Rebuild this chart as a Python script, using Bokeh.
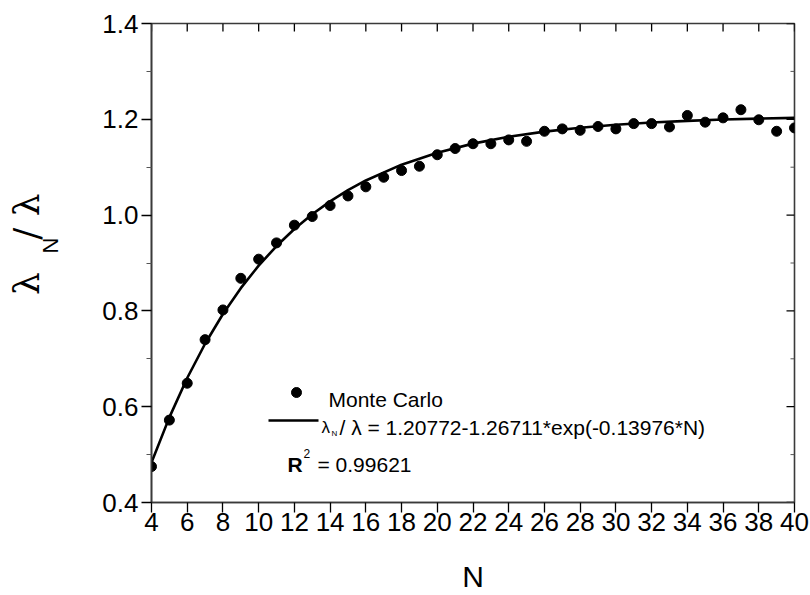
import math
from bokeh.plotting import figure
from bokeh.models import (Range1d, LinearAxis, FixedTicker, Label, NumeralTickFormatter,
                          CustomJSTickFormatter)
from bokeh.embed import file_html
from bokeh.resources import INLINE

# ---------------- data ----------------
n_values = list(range(4, 41))
monte_carlo = [0.475, 0.572, 0.649, 0.740, 0.802, 0.868, 0.908, 0.942, 0.979, 0.997,
               1.020, 1.040, 1.059, 1.079, 1.093, 1.102, 1.126, 1.139, 1.149, 1.149,
               1.157, 1.154, 1.175, 1.180, 1.177, 1.185, 1.180, 1.191, 1.191, 1.184,
               1.208, 1.194, 1.203, 1.220, 1.199, 1.175, 1.182]

fit_n = [4, 5, 6, 7, 8, 9, 10, 11, 12, 13, 14, 15, 16, 18, 20, 22, 24, 26, 28, 30,
         32, 34, 36, 38, 40]
fit_ratio = [0.4832, 0.5777, 0.6599, 0.7314, 0.7935, 0.8475, 0.8945, 0.9354, 0.9709,
             1.0018, 1.0287, 1.0520, 1.0723, 1.1053, 1.1303, 1.1492, 1.1634, 1.1742,
             1.1824, 1.1886, 1.1933, 1.1968, 1.1995, 1.2015, 1.2030]

x_ticks = list(range(4, 41, 2))
y_ticks = [0.4, 0.6, 0.8, 1.0, 1.2, 1.4]
y_minor_ticks = [0.5, 0.7, 0.9, 1.1, 1.3]

legend_points = "Monte Carlo"
fit_text = "/ \u03bb = 1.20772-1.26711*exp(-0.13976*N)"
r2_text = "= 0.99621"
x_title = "N"
y_title_main = ["\u03bb", "/ \u03bb"]
y_title_sub = ["N"]

# ---------------- layout ----------------
W, H = 810, 595
BL, BR, BT, BB = 151, 16, 23, 93
FONT = "Liberation Sans"
X0, X1 = 4, 40
Y0, Y1 = 0.4, 1.4
frame_w = W - BL - BR
frame_h = H - BT - BB


def x_of(px):
    return X0 + (px - BL) * (X1 - X0) / frame_w


def y_of(py):
    return Y1 - (py - BT) * (Y1 - Y0) / frame_h


p = figure(width=W, height=H, output_backend="svg", toolbar_location=None,
           x_range=Range1d(X0, X1), y_range=Range1d(Y0, Y1),
           min_border_left=BL, min_border_right=BR, min_border_top=BT,
           min_border_bottom=BB)
AX_COLOR = "#3a3a3a"
p.outline_line_color = AX_COLOR
p.outline_line_width = 1.6
p.xgrid.visible = False
p.ygrid.visible = False
p.background_fill_color = "white"
p.border_fill_color = "white"

xa = p.xaxis[0]
xa.ticker = FixedTicker(ticks=x_ticks)
xa.major_tick_out = 10
xa.major_tick_in = 0
xa.minor_tick_out = 0
xa.minor_tick_in = 0
xa.axis_line_width = 1.6
xa.axis_line_color = AX_COLOR
xa.major_tick_line_color = "black"
xa.major_tick_line_width = 1.3
xa.major_label_text_font = FONT
xa.major_label_text_font_size = "26px"
xa.major_label_text_color = "black"
xa.major_label_standoff = 0
xa.axis_label = x_title
xa.axis_label_text_font = FONT
xa.axis_label_text_font_size = "30px"
xa.axis_label_text_font_style = "normal"
xa.axis_label_text_color = "black"
xa.axis_label_standoff = 26

ya = p.yaxis[0]
ya.ticker = FixedTicker(ticks=y_ticks, minor_ticks=y_minor_ticks)
ya.formatter = NumeralTickFormatter(format="0.0")
ya.major_tick_out = 10
ya.major_tick_in = 0
ya.minor_tick_out = 5
ya.minor_tick_in = 0
ya.axis_line_width = 1.6
ya.axis_line_color = AX_COLOR
ya.major_tick_line_color = "black"
ya.minor_tick_line_color = "#555555"
ya.major_tick_line_width = 1.3
ya.major_label_text_font = FONT
ya.major_label_text_font_size = "26px"
ya.major_label_text_color = "black"
ya.major_label_standoff = 3

# inward ticks on the top and right edges of the frame (8px / 4px long)
tick_dy = 8 * (Y1 - Y0) / frame_h
tick_dx = 8 * (X1 - X0) / frame_w
p.segment(x0=x_ticks, y0=[Y1] * len(x_ticks), x1=x_ticks,
          y1=[Y1 - tick_dy] * len(x_ticks), line_color="black", line_width=1.3)
p.segment(x0=[X1] * len(y_ticks), y0=y_ticks, x1=[X1 - tick_dx] * len(y_ticks),
          y1=y_ticks, line_color="black", line_width=1.3)
p.segment(x0=[X1] * len(y_minor_ticks), y0=y_minor_ticks,
          x1=[X1 - tick_dx / 2] * len(y_minor_ticks), y1=y_minor_ticks,
          line_color="#555555", line_width=1.0)

# y-axis title "λN / λ": two label-only axes stacked left of the tick labels
sub_axis = LinearAxis(ticker=FixedTicker(ticks=[y_of(245)]),
                      formatter=CustomJSTickFormatter(args=dict(labels=y_title_sub),
                                                      code="return labels[index]"),
                      major_tick_in=0, major_tick_out=0, minor_tick_in=0, minor_tick_out=0,
                      axis_line_color=None, major_label_standoff=37,
                      major_label_orientation="parallel",
                      major_label_text_font=FONT, major_label_text_font_size="22px",
                      major_label_text_color="black")
p.add_layout(sub_axis, "left")

main_axis = LinearAxis(ticker=FixedTicker(ticks=[y_of(283), y_of(216)]),
                       formatter=CustomJSTickFormatter(args=dict(labels=y_title_main),
                                                       code="return labels[index]"),
                       major_tick_in=0, major_tick_out=0, minor_tick_in=0, minor_tick_out=0,
                       axis_line_color=None, major_label_standoff=-12,
                       major_label_orientation="parallel",
                       major_label_text_font="DejaVu Serif",
                       major_label_text_font_size="36px",
                       major_label_text_color="black")
p.add_layout(main_axis, "left")

# ---------------- data marks ----------------
p.line(fit_n, fit_ratio, line_color="black", line_width=2.6)
p.scatter(n_values, monte_carlo, size=10, marker="circle", fill_color="black",
          line_color="black")

# ---------------- legend (drawn by hand, like the original) ----------------
p.scatter([x_of(296)], [y_of(392)], size=10, marker="circle", fill_color="black",
          line_color="black")
p.line([x_of(268), x_of(318)], [y_of(420), y_of(420)], line_color="black", line_width=2.6)


def add_text(px, py, text, size, style="normal", font=FONT):
    p.add_layout(Label(x=x_of(px), y=y_of(py), text=text, text_font=font,
                       text_font_size=f"{size}px", text_font_style=style,
                       text_align="left", text_baseline="alphabetic",
                       text_color="black"))


add_text(328, 399, legend_points, 21)
add_text(321, 427, "\u03bb", 17)
add_text(331, 433, "N", 8)
add_text(339, 427, fit_text, 21)
add_text(287, 464, "R", 21, style="bold")
add_text(303, 453, "2", 12)
add_text(317, 464, r2_text, 21)

open("out.html", "w").write(file_html(p, INLINE))
